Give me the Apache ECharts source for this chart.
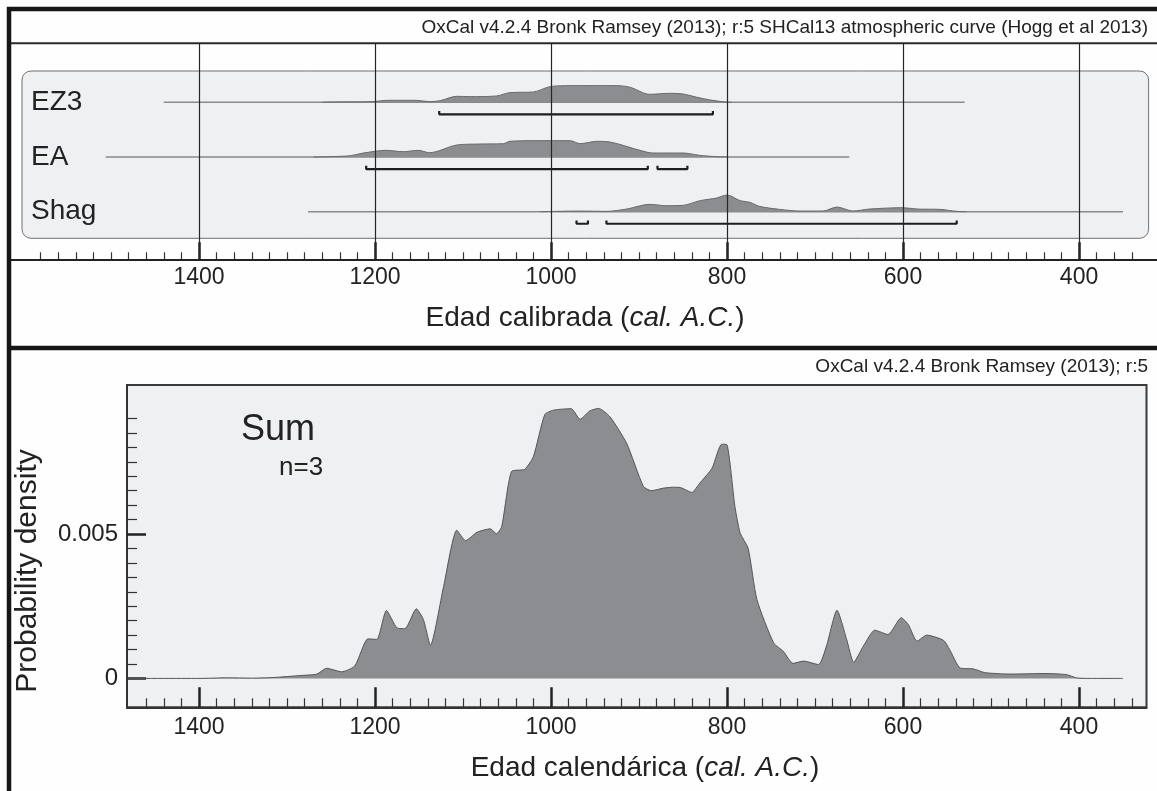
<!DOCTYPE html>
<html>
<head>
<meta charset="utf-8">
<script src="https://cdn.jsdelivr.net/npm/echarts@6/dist/echarts.min.js"></script>
<style>
html,body{margin:0;padding:0;background:#fefefe;}
#chart{width:1157px;height:791px;}
</style>
</head>
<body>
<div id="chart"></div>
<script>
// ---------------- DATA ----------------
const rowNames = ['EZ3', 'EA', 'Shag'];
const majorTicks = [1400, 1200, 1000, 800, 600, 400];
const tickLabels = ['1400', '1200', '1000', '800', '600', '400'];
const yTickValues = [0, 0.005];
const yTickLabels = ['0', '0.005'];

// full likelihood ranges (thin lines)
const ez3Range = [1440, 530];
const eaRange = [1506, 661];
const shagRange = [1276, 350];

// 95.4% ranges (brackets)
const ez3Brackets = [[1127, 816]];
const eaBrackets = [[1210, 890], [879, 845]];
const shagBrackets = [[971, 958], [937, 539]];

// relative probability profiles (1 = row maximum)
const ez3Years = [1260, 1251, 1202, 1187, 1153, 1138, 1126, 1107, 1092, 1062, 1047, 1020, 1001, 978, 925, 910, 888, 865, 850, 834, 819, 802, 795];
const ez3Prob  = [0, 0.02, 0.04, 0.12, 0.12, 0.04, 0.10, 0.36, 0.34, 0.38, 0.58, 0.62, 0.94, 1.0, 1.0, 0.90, 0.48, 0.54, 0.50, 0.30, 0.14, 0.02, 0];

const eaYears = [1270, 1251, 1228, 1213, 1187, 1168, 1151, 1138, 1107, 1081, 1054, 1047, 1016, 978, 967, 948, 933, 899, 884, 850, 831, 812, 800];
const eaProb  = [0, 0.02, 0.08, 0.24, 0.40, 0.32, 0.40, 0.26, 0.72, 0.78, 0.80, 0.94, 0.98, 0.98, 0.80, 0.94, 0.90, 0.40, 0.24, 0.24, 0.10, 0.02, 0];

const shagYears = [1012, 967, 937, 914, 888, 869, 850, 831, 812, 800, 785, 774, 763, 740, 717, 691, 675, 657, 638, 600, 584, 558, 539, 528];
const shagProb  = [0, 0.04, 0.02, 0.16, 0.44, 0.36, 0.38, 0.66, 0.82, 1.0, 0.66, 0.56, 0.32, 0.14, 0.04, 0.04, 0.28, 0.04, 0.16, 0.24, 0.16, 0.14, 0.02, 0];

// summed probability density
const sumYears = [1482, 1400, 1368, 1340, 1316, 1285, 1266, 1255, 1238, 1223, 1208, 1198, 1187, 1175, 1166, 1153, 1145, 1137, 1122, 1107, 1097, 1084, 1069, 1062, 1056, 1045, 1030, 1020, 1007, 997, 977, 967, 956, 946, 933, 914, 895, 886, 872, 861, 853, 840, 831, 817, 806, 800, 791, 785, 776, 766, 747, 736, 725, 713, 696, 687, 675, 664, 656, 645, 632, 617, 602, 594, 584, 573, 554, 547, 535, 520, 507, 478, 437, 414, 403, 390, 350];
const sumDensity = [0, 0, 0.00002, 0.00001, 0.00003, 0.0001, 0.00015, 0.00035, 0.00023, 0.00043, 0.00137, 0.00135, 0.00235, 0.00175, 0.00172, 0.00241, 0.00204, 0.00115, 0.00319, 0.00513, 0.00477, 0.00506, 0.00518, 0.00501, 0.00526, 0.00716, 0.00724, 0.00768, 0.00914, 0.00929, 0.00934, 0.00897, 0.00926, 0.00935, 0.00906, 0.00814, 0.00665, 0.0065, 0.00659, 0.00662, 0.00661, 0.00644, 0.00676, 0.00728, 0.00811, 0.00809, 0.00595, 0.00503, 0.00451, 0.00273, 0.00123, 0.00094, 0.00052, 0.0006, 0.00048, 0.00112, 0.00236, 0.00135, 0.00056, 0.00112, 0.00167, 0.00152, 0.0021, 0.00187, 0.00129, 0.0015, 0.00132, 0.001, 0.00036, 0.00033, 0.0002, 0.00015, 0.00017, 0.00013, 0.00002, 0, 0];

// ---------------- LAYOUT / STYLE ----------------
const FONT = '"Liberation Sans", Arial, Helvetica, sans-serif';
const TXT = '#222';
const AREA = '#8b8d90';
const BOXBG = '#eff0f2';

const TOP_MIN = 311.4, TOP_MAX = 1613.6;
const BOT_MIN = 323.3, BOT_MAX = 1481.8;
const ROW_MIN = 0.13, ROW_MAX = 4.079;
const PEAK_H = 0.305, BR_OFF = 0.22, CAP = 0.06;

const topMinor = [];
for (let v = 1580; v >= 340; v -= 20) if (v % 200 !== 0) topMinor.push(v);
const botMinor = [];
for (let v = 1460; v >= 340; v -= 20) if (v % 200 !== 0) botMinor.push(v);
const yMinor = [];
for (let k = 1; k <= 18; k++) if (k !== 10) yMinor.push(+(k * 0.0005).toFixed(4));

const ranges = [ez3Range, eaRange, shagRange];
const brackets = [ez3Brackets, eaBrackets, shagBrackets];
const profYears = [ez3Years, eaYears, shagYears];
const profProb = [ez3Prob, eaProb, shagProb];

const series = [];
rowNames.forEach((name, i) => {
  const base = 3 - i;
  series.push({
    type: 'line', name: name + ' range', xAxisIndex: 0, yAxisIndex: 0,
    data: [[ranges[i][0], base], [ranges[i][1], base]],
    symbol: 'none', lineStyle: { color: '#8a8a8a', width: 1.5 }, z: 2, silent: true
  });
  series.push({
    type: 'line', name: name, xAxisIndex: 0, yAxisIndex: 0,
    data: profYears[i].map((y, k) => [y, base + profProb[i][k] * PEAK_H]),
    symbol: 'none', smooth: 0.3,
    lineStyle: { color: '#6a6a6a', width: 1 },
    areaStyle: { color: AREA, opacity: 1, origin: base },
    z: 3, silent: true
  });
  brackets[i].forEach(([a, b]) => {
    const yb = base - BR_OFF;
    series.push({
      type: 'line', xAxisIndex: 0, yAxisIndex: 0,
      data: [[a, yb + CAP], [a, yb], [b, yb], [b, yb + CAP]],
      symbol: 'none', lineStyle: { color: '#1e1e1e', width: 2.2 }, z: 4, silent: true
    });
  });
});
// vertical grid lines in top panel
series.push({
  type: 'line', xAxisIndex: 0, yAxisIndex: 0, data: [], z: 6, silent: true,
  markLine: {
    silent: true, symbol: ['none', 'none'], label: { show: false },
    lineStyle: { color: '#262626', width: 1.2, type: 'solid' },
    data: majorTicks.map(v => ({ xAxis: v }))
  }
});
// sum curve
series.push({
  type: 'line', name: 'Sum', xAxisIndex: 2, yAxisIndex: 1,
  data: sumYears.map((y, k) => [y, sumDensity[k]]),
  symbol: 'none', smooth: 0.2,
  lineStyle: { color: '#555', width: 1 },
  areaStyle: { color: AREA, opacity: 1 },
  z: 3, silent: true
});

const option = {
  animation: false,
  backgroundColor: '#fefefe',
  textStyle: { fontFamily: FONT },
  grid: [
    { left: 11, top: 43.3, width: 1146, height: 216, show: false },
    { left: 127, top: 385, width: 1019.5, height: 322.3, show: true,
      backgroundColor: BOXBG, borderColor: '#3a3a3a', borderWidth: 2 }
  ],
  xAxis: [
    { gridIndex: 0, type: 'value', inverse: true, min: TOP_MIN, max: TOP_MAX, position: 'bottom',
      axisLine: { show: true, onZero: false, lineStyle: { color: '#222', width: 2 } },
      axisTick: { show: true, inside: true, length: 17, customValues: majorTicks, lineStyle: { color: '#222', width: 2.5 } },
      axisLabel: { show: true, customValues: majorTicks, margin: 7, fontSize: 23, color: TXT, fontFamily: FONT,
        formatter: v => tickLabels[majorTicks.indexOf(v)] },
      splitLine: { show: false } },
    { gridIndex: 0, type: 'value', inverse: true, min: TOP_MIN, max: TOP_MAX, position: 'bottom', offset: 0,
      axisLine: { show: false, onZero: false },
      axisTick: { show: true, inside: true, length: 7, customValues: topMinor, lineStyle: { color: '#333', width: 1.2 } },
      axisLabel: { show: false }, splitLine: { show: false } },
    { gridIndex: 1, type: 'value', inverse: true, min: BOT_MIN, max: BOT_MAX, position: 'bottom',
      axisLine: { show: true, onZero: false, lineStyle: { color: '#333', width: 2 } },
      axisTick: { show: true, inside: true, length: 20, customValues: majorTicks, lineStyle: { color: '#222', width: 2.5 } },
      axisLabel: { show: true, customValues: majorTicks, margin: 9, fontSize: 23, color: TXT, fontFamily: FONT,
        formatter: v => tickLabels[majorTicks.indexOf(v)] },
      splitLine: { show: false } },
    { gridIndex: 1, type: 'value', inverse: true, min: BOT_MIN, max: BOT_MAX, position: 'bottom', offset: 0,
      axisLine: { show: false, onZero: false },
      axisTick: { show: true, inside: true, length: 9, customValues: botMinor, lineStyle: { color: '#333', width: 1.2 } },
      axisLabel: { show: false }, splitLine: { show: false } }
  ],
  yAxis: [
    { gridIndex: 0, type: 'value', min: ROW_MIN, max: ROW_MAX,
      axisLine: { show: false, onZero: false }, axisTick: { show: false }, splitLine: { show: false },
      axisLabel: { show: true, inside: true, margin: 20, customValues: [3, 2, 1], fontSize: 28, color: TXT, fontFamily: FONT,
        formatter: v => rowNames[3 - v] } },
    { gridIndex: 1, type: 'value', min: -0.001, max: 0.01016, position: 'left',
      axisLine: { show: true, onZero: false, lineStyle: { color: '#333', width: 2 } },
      axisTick: { show: true, inside: true, length: 19, customValues: yTickValues, lineStyle: { color: '#222', width: 2.5 } },
      axisLabel: { show: true, customValues: yTickValues, margin: 9, fontSize: 24, color: TXT, fontFamily: FONT,
        formatter: v => yTickLabels[yTickValues.indexOf(v)] },
      splitLine: { show: false } },
    { gridIndex: 1, type: 'value', min: -0.001, max: 0.01016, position: 'left', offset: 0,
      axisLine: { show: false, onZero: false },
      axisTick: { show: true, inside: true, length: 10, customValues: yMinor, lineStyle: { color: '#333', width: 1.2 } },
      axisLabel: { show: false }, splitLine: { show: false } }
  ],
  graphic: [
    { type: 'rect', z: 0, shape: { x: 22, y: 71, width: 1126.6, height: 167.3, r: 9 },
      style: { fill: BOXBG, stroke: '#707070', lineWidth: 1 } },
    { type: 'line', z: 1, shape: { x1: 11, y1: 43.3, x2: 1157, y2: 43.3 }, style: { stroke: '#2a2a2a', lineWidth: 2 } },
    { type: 'line', z: 10, shape: { x1: 7, y1: 9, x2: 1157, y2: 9 }, style: { stroke: '#161616', lineWidth: 4.5 } },
    { type: 'line', z: 10, shape: { x1: 9, y1: 7, x2: 9, y2: 791 }, style: { stroke: '#161616', lineWidth: 4.5 } },
    { type: 'line', z: 10, shape: { x1: 7, y1: 348, x2: 1157, y2: 348 }, style: { stroke: '#161616', lineWidth: 4.5 } },
    { type: 'text', z: 10, x: 1148, y: 28, style: { text: 'OxCal v4.2.4 Bronk Ramsey (2013); r:5 SHCal13 atmospheric curve (Hogg et al 2013)',
      align: 'right', verticalAlign: 'middle', fontSize: 19, fontFamily: FONT, fill: TXT } },
    { type: 'text', z: 10, x: 1148, y: 367, style: { text: 'OxCal v4.2.4 Bronk Ramsey (2013); r:5',
      align: 'right', verticalAlign: 'middle', fontSize: 19, fontFamily: FONT, fill: TXT } },
    { type: 'text', z: 10, x: 585, y: 318, style: { text: 'Edad calibrada ({i|cal. A.C.})',
      align: 'center', verticalAlign: 'middle', fontSize: 28, fontFamily: FONT, fill: TXT,
      rich: { i: { fontStyle: 'italic', fontSize: 28, fontFamily: FONT, fill: TXT } } } },
    { type: 'text', z: 10, x: 645, y: 768, style: { text: 'Edad calendárica ({i|cal. A.C.})',
      align: 'center', verticalAlign: 'middle', fontSize: 28, fontFamily: FONT, fill: TXT,
      rich: { i: { fontStyle: 'italic', fontSize: 28, fontFamily: FONT, fill: TXT } } } },
    { type: 'text', z: 10, x: 28, y: 571, rotation: Math.PI / 2, style: { text: 'Probability density',
      align: 'center', verticalAlign: 'middle', fontSize: 30, fontFamily: FONT, fill: TXT } },
    { type: 'text', z: 10, x: 241, y: 430, style: { text: 'Sum',
      align: 'left', verticalAlign: 'middle', fontSize: 36, fontFamily: FONT, fill: TXT } },
    { type: 'text', z: 10, x: 279, y: 468, style: { text: 'n=3',
      align: 'left', verticalAlign: 'middle', fontSize: 26, fontFamily: FONT, fill: TXT } }
  ],
  series: series
};

const chart = echarts.init(document.getElementById('chart'), null, { renderer: 'canvas' });
chart.setOption(option);
</script>
</body>
</html>
